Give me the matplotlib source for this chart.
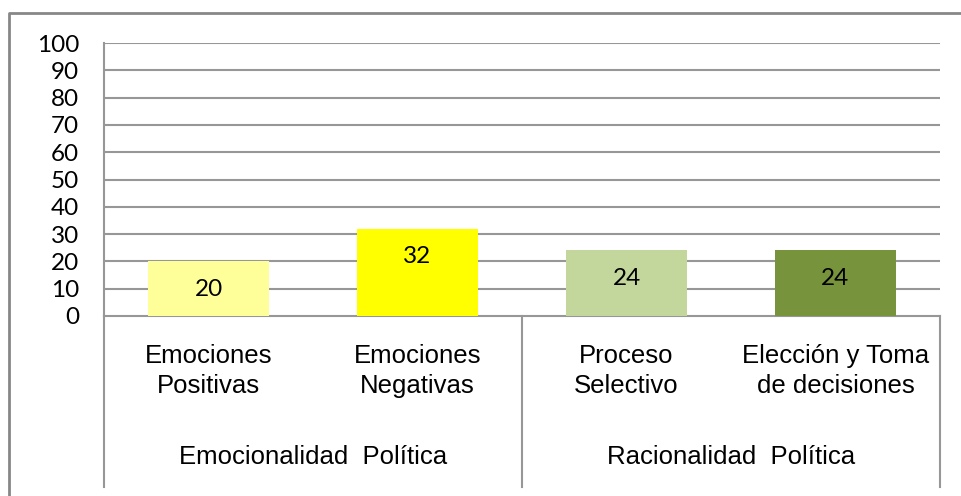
import matplotlib
matplotlib.use("Agg")
import matplotlib.pyplot as plt
from matplotlib.lines import Line2D

categories = ["Emociones\nPositivas", "Emociones\nNegativas", "Proceso\nSelectivo", "Elección y Toma\nde decisiones"]
values = [20, 32, 24, 24]
groups = ["Emocionalidad  Política", "Racionalidad  Política"]
group_sizes = [2, 2]
colors = ["#FFFF99", "#FFFF00", "#C3D69B", "#77933C"]
yticks = list(range(0, 101, 10))

W, H = 961, 496
fig = plt.figure(figsize=(W / 100, H / 100), dpi=100)
L, R, T, B = 104, 940, 43, 316
ax = fig.add_axes([L / W, 1 - B / H, (R - L) / W, (B - T) / H])

grid_c = "#979797"
x = list(range(len(values)))
ax.bar(x, values, width=0.575, color=colors, zorder=3)
ax.set_xlim(-0.5, len(values) - 0.5)
ax.set_ylim(0, 100)
ax.set_yticks(yticks)
ax.set_yticklabels([str(v) for v in yticks], fontfamily="Lato", fontsize=17.5)
ax.tick_params(axis="y", length=0, pad=18)
ax.set_xticks([])
for v in yticks[1:]:
    ax.axhline(v, color=grid_c, lw=1.5, zorder=1)
for s in ["top", "right"]:
    ax.spines[s].set_visible(False)
for s in ["left", "bottom"]:
    ax.spines[s].set_color(grid_c)
    ax.spines[s].set_linewidth(1.5)

for xi, v in zip(x, values):
    ax.annotate(str(v), (xi, v), xytext=(0, -20), textcoords="offset points",
                ha="center", va="center", fontfamily="Lato", fontsize=17.5, zorder=4)

# hierarchical category axis
bottom_frac = (B - 487) / (B - T)
trans = ax.get_xaxis_transform()
bounds = [-0.5]
for n in group_sizes:
    bounds.append(bounds[-1] + n)
for bx in bounds:
    ax.plot([bx, bx], [0, bottom_frac], transform=trans, color=grid_c, lw=1.5, clip_on=False)

cat_y = (B - 371) / (B - T)
for xi, c in zip(x, categories):
    ax.text(xi, cat_y, c, transform=trans, ha="center", va="center",
            fontfamily="Liberation Sans", fontsize=18.5, linespacing=1.32)

grp_y = (B - 457) / (B - T)
for i, g in enumerate(groups):
    cx = (bounds[i] + bounds[i + 1]) / 2
    ax.text(cx, grp_y, g, transform=trans, ha="center", va="center",
            fontfamily="Liberation Sans", fontsize=18.5)

# outer chart frame (left and top visible)
fig.add_artist(Line2D([9 / W, 9 / W, 1.0], [0.0, 1 - 13 / H, 1 - 13 / H],
                      transform=fig.transFigure, color="#878787", lw=2))

fig.savefig("out.png", dpi=100)
